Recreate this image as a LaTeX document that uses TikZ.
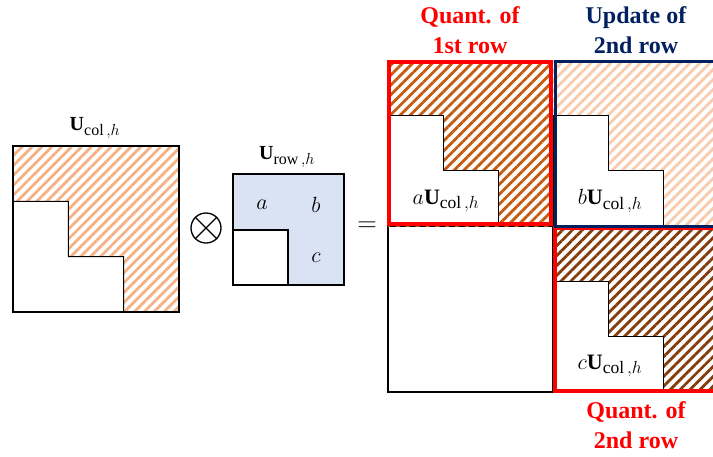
\RequirePackage{fix-cm}
\documentclass[tikz,border=0pt]{standalone}
\usepackage{fontspec}
\setmainfont{Liberation Serif}
\usetikzlibrary{patterns.meta}
\DeclareMathSizes{20}{20}{16}{12}
\DeclareMathSizes{22}{22}{17.5}{13}

\definecolor{hatchlight}{HTML}{F4B183}
\definecolor{hatchpale}{HTML}{F8CBAD}
\definecolor{hatchmid}{HTML}{C55A11}
\definecolor{hatchdark}{HTML}{843C0C}
\definecolor{rowblue}{HTML}{DAE3F3}
\definecolor{quantred}{HTML}{FF0000}
\definecolor{updnavy}{HTML}{002060}

% white staircase inside a square block: x, y, size
\newcommand{\stairs}[3]{%
  \draw[line width=0.9pt, fill=white] (#1,#2+#3/3) -- ++(#3/3,0) -- ++(0,#3/3)
    -- ++(#3/3,0) -- ++(0,#3/3) -- (#1,#2+#3) -- cycle;}

\begin{document}
\begin{tikzpicture}[x=1pt, y=-1pt,
    box/.style={draw, line width=1.2pt},
    hatch/.style={pattern={Lines[angle=45, distance=7pt, line width=2.8pt]}, pattern color=#1},
    lbl/.style={font=\fontsize{24}{30}\selectfont\bfseries, align=center},
    mth/.style={font=\fontsize{20}{22}\selectfont},
    mthbig/.style={font=\fontsize{22}{22}\selectfont},
    quant/.style={draw=quantred, line width=3.5pt},
    upd/.style={draw=updnavy, line width=3pt}]
    \useasboundingbox (0,0) rectangle (713,456);

    % U_col,h
    \fill[hatch=hatchlight] (13,146) rectangle (179,312);
    \stairs{13}{146}{166}
    \draw[box] (13,146) rectangle (179,312);
    \node[mth] (ucol) at (95,128) {$\mathbf{U}_{\mathrm{col}\,,h}$};

    % Kronecker product
    \node[circle, draw, line width=1.3pt, minimum size=30pt, inner sep=0pt] (kron) at (206,228) {};
    \draw[line width=1.3pt] (kron.north west) -- (kron.south east);
    \draw[line width=1.3pt] (kron.north east) -- (kron.south west);

    % U_row,h
    \fill[rowblue] (233,174) rectangle (344,285);
    \draw[box, fill=white] (233,230) rectangle (288,285);
    \draw[box] (233,174) rectangle (344,285);
    \node[mth] (urow) at (287,157) {$\mathbf{U}_{\mathrm{row}\,,h}$};
    \node[mthbig] (ea) at (262,205) {$a$};
    \node[mthbig] (eb) at (316,205) {$b$};
    \node[mthbig] (ec) at (316,258) {$c$};

    \node[font=\fontsize{27}{27}\selectfont] (eq) at (367,227) {$=$};

    % result blocks
    \draw[box] (388,226) rectangle (553,392);
    \fill[hatch=hatchmid] (388,60) rectangle (553,226);
    \stairs{388}{60}{165}
    \fill[hatch=hatchpale] (553,60) rectangle (718,226);
    \stairs{553}{60}{165}
    \fill[hatch=hatchdark] (553,226) rectangle (718,392);
    \stairs{553}{226}{165}
    \node[mthbig] (acol) at (446,201) {$a\mathbf{U}_{\mathrm{col}\,,h}$};
    \node[mthbig] (bcol) at (610,201) {$b\mathbf{U}_{\mathrm{col}\,,h}$};
    \node[mthbig] (ccol) at (610,366) {$c\mathbf{U}_{\mathrm{col}\,,h}$};

    % frames
    \draw[quant] (555,228) rectangle (718,391);
    \draw[quant] (389,62) rectangle (551,224);
    \draw[upd] (555,61) rectangle (718,226);

    \node[lbl, text=quantred] (q1) at (470,30) {Quant. of\\1st row};
    \node[lbl, text=updnavy] (u2) at (636,30) {Update of\\2nd row};
    \node[lbl, text=quantred] (q2) at (636,425) {Quant. of\\2nd row};
\end{tikzpicture}
\end{document}
